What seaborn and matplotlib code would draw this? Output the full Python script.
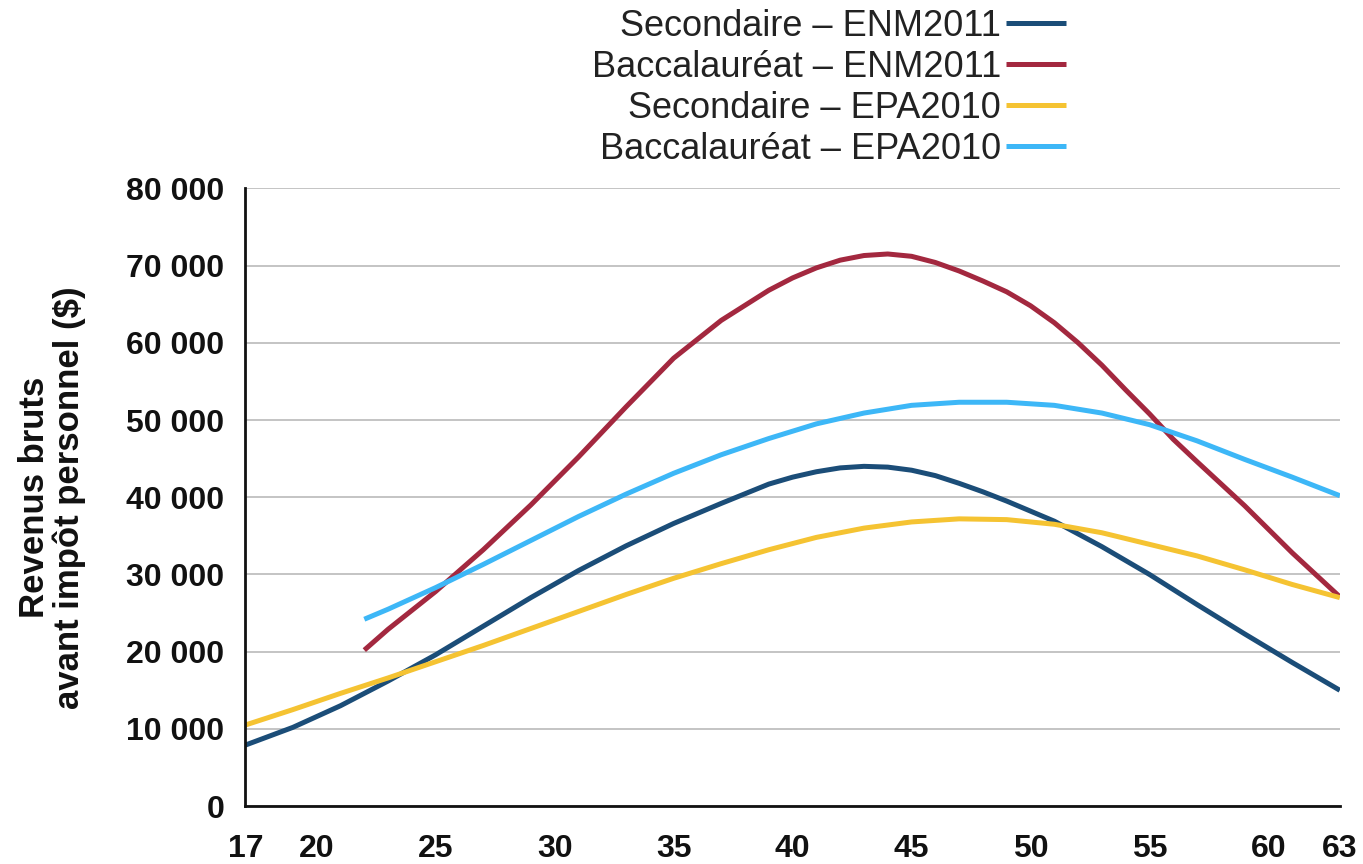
import pandas as pd
import numpy as np
import seaborn as sns
import matplotlib.pyplot as plt
import matplotlib.ticker as ticker

# ages and values
ages_sec_enm = [17, 19, 21, 23, 25, 27, 29, 31, 33, 35, 37, 39, 40, 41, 42, 43, 44, 45, 46, 47,
                48, 49, 51, 53, 55, 57, 59, 61, 63]
sec_enm2011 = [7900, 10200, 13000, 16200, 19600, 23300, 27000, 30500, 33700, 36600, 39200, 41700,
               42600, 43300, 43800, 44000, 43900, 43500, 42800, 41800, 40700, 39500, 36900, 33600,
               30000, 26100, 22300, 18600, 15000]

ages_bac_enm = [22, 23, 25, 27, 29, 31, 33, 35, 37, 39, 40, 41, 42, 43, 44, 45, 46, 47, 48, 49,
                50, 51, 52, 53, 54, 55, 56, 57, 59, 61, 63]
bac_enm2011 = [20200, 22900, 27800, 33200, 39000, 45200, 51700, 58000, 62900, 66800, 68400, 69700,
               70700, 71300, 71500, 71200, 70400, 69300, 68000, 66600, 64800, 62600, 60000, 57100,
               53900, 50800, 47500, 44600, 38900, 32800, 27100]

ages_sec_epa = [17, 19, 21, 23, 25, 27, 29, 31, 33, 35, 37, 39, 41, 43, 45, 47, 49, 51, 53, 55,
                57, 59, 61, 63]
sec_epa2010 = [10500, 12500, 14600, 16600, 18700, 20800, 23000, 25200, 27400, 29500, 31400, 33200,
               34800, 36000, 36800, 37200, 37100, 36500, 35400, 33900, 32400, 30600, 28700, 27000]

ages_bac_epa = [22, 23, 25, 27, 29, 31, 33, 35, 37, 39, 41, 43, 45, 47, 49, 51, 53, 55, 57, 59,
                61, 63]
bac_epa2010 = [24200, 25500, 28300, 31300, 34400, 37500, 40400, 43100, 45500, 47600, 49500,
               50900, 51900, 52300, 52300, 51900, 50900, 49400, 47300, 44900, 42600, 40200]

series_names = ["Secondaire – ENM2011", "Baccalauréat – ENM2011",
                "Secondaire – EPA2010", "Baccalauréat – EPA2010"]
colors = ["#1b4d78", "#a3283f", "#f5c332", "#3db7f7"]
xticks = [17, 20, 25, 30, 35, 40, 45, 50, 55, 60, 63]
yticks = [0, 10000, 20000, 30000, 40000, 50000, 60000, 70000, 80000]


def space_thousands(v, pos):
    """Format 10000 as '10 000'"""
    return f"{int(v):,}".replace(",", " ")


frames = []
for name, x, y in zip(series_names,
                      [ages_sec_enm, ages_bac_enm, ages_sec_epa, ages_bac_epa],
                      [sec_enm2011, bac_enm2011, sec_epa2010, bac_epa2010]):
    frames.append(pd.DataFrame({"age": x, "revenu": y, "serie": name}))
df = pd.concat(frames, ignore_index=True)

sns.set_theme(style="white")
plt.rcParams["font.family"] = ["Liberation Sans", "DejaVu Sans"]

fig = plt.figure(figsize=(13.63, 8.64), dpi=100)
ax = fig.add_axes([0.18, 0.067, 0.803, 0.715])

sns.lineplot(data=df, x="age", y="revenu", hue="serie", hue_order=series_names,
             palette=colors, linewidth=3.6, ax=ax, estimator=None, sort=True,
             solid_joinstyle="round", solid_capstyle="butt")

ax.set_xlim(17, 63)
ax.set_ylim(0, 80000)
ax.set_xticks(xticks)
ax.set_yticks(yticks)
ax.yaxis.set_major_formatter(ticker.FuncFormatter(space_thousands))
ax.yaxis.grid(True, color="#c4c4c4", linewidth=1.4)
ax.xaxis.grid(False)
ax.set_axisbelow(True)

for side in ["top", "right"]:
    ax.spines[side].set_visible(False)
for side in ["left", "bottom"]:
    ax.spines[side].set_color("#111111")
    ax.spines[side].set_linewidth(2)

ax.tick_params(axis="x", direction="in", length=12, width=1.6, color="#111111", pad=20,
               labelsize=23)
ax.tick_params(axis="y", length=0, pad=15, labelsize=23)
for lab in ax.get_xticklabels() + ax.get_yticklabels():
    lab.set_fontweight("bold")
    lab.set_color("#111111")

ax.set_xlabel("")
ax.set_ylabel("Revenus bruts\navant impôt personnel ($)", fontsize=25, fontweight="bold",
              color="#111111", linespacing=1.05)
ax.yaxis.set_label_coords(-0.146, 0.5)

handles, labels = ax.get_legend_handles_labels()
ax.get_legend().remove()
fig.legend(handles, labels, loc="upper right", bbox_to_anchor=(0.782, 0.99),
           frameon=False, markerfirst=False, fontsize=26, handlelength=1.65,
           handletextpad=0.15, labelspacing=0.17, borderpad=0, borderaxespad=0,
           labelcolor="#222222")

fig.savefig("out.png", dpi=100)
